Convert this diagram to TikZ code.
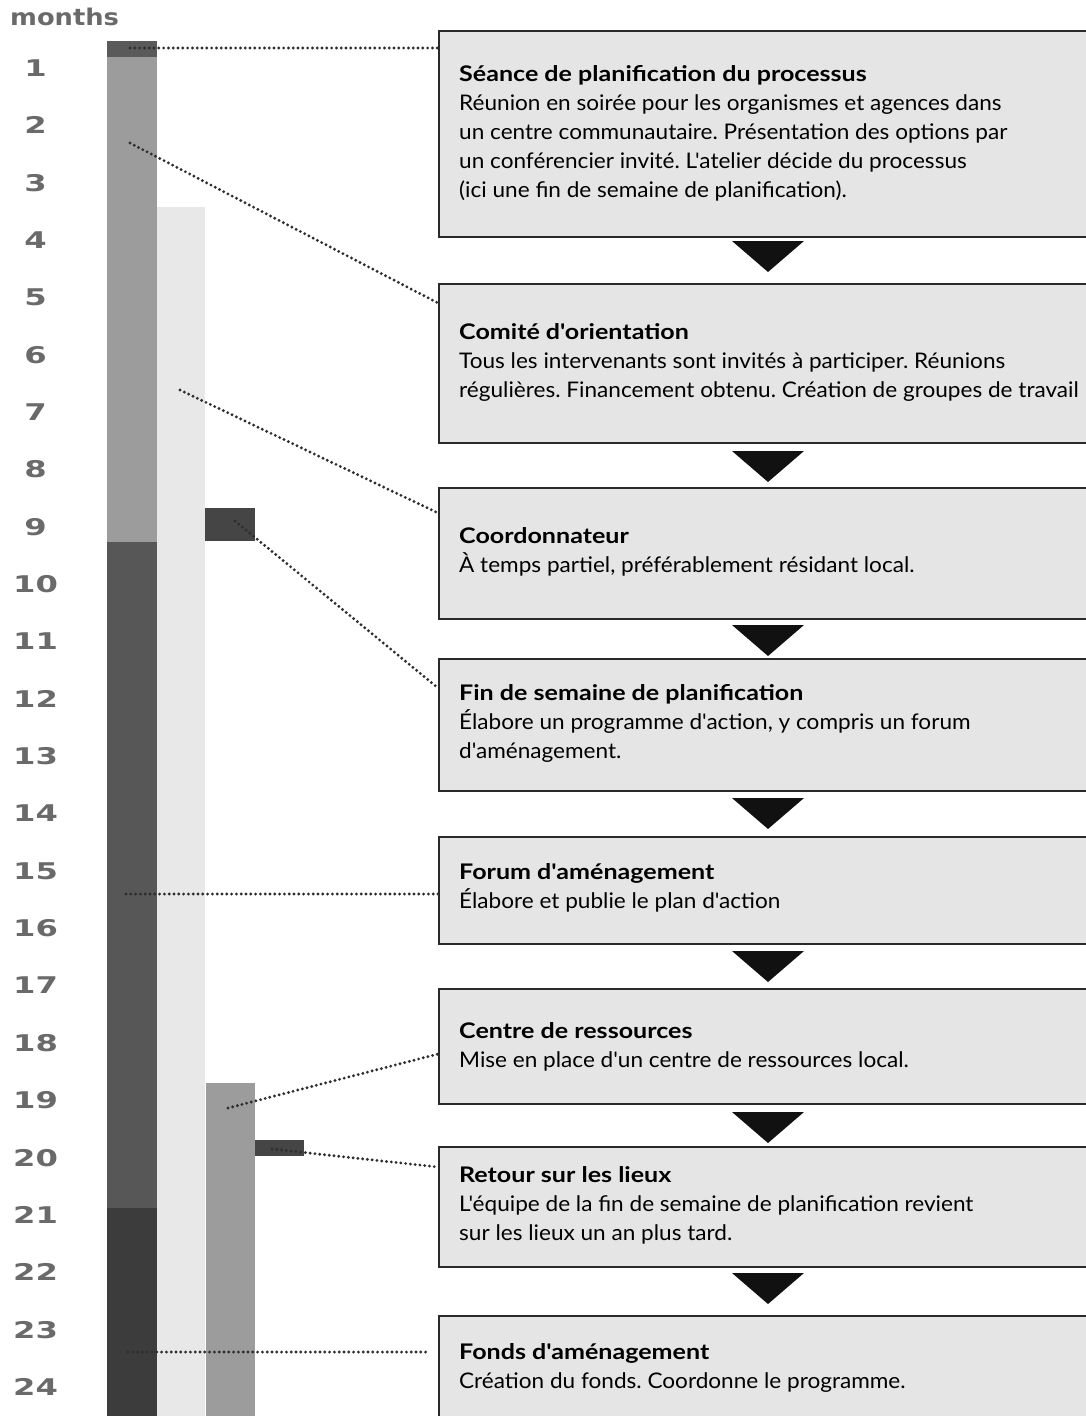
\documentclass[tikz,border=0pt]{standalone}
\usepackage{fontspec}
\usepackage{graphicx}
\setmainfont{Lato}[Ligatures=TeXOff, FakeStretch=1.05]
\newfontfamily\numfont{DejaVu Sans}
\usetikzlibrary{calc}
\frenchspacing
\definecolor{numgray}{HTML}{6A6A6A}
\definecolor{bartop}{HTML}{5A5A5A}
\definecolor{barmid}{HTML}{9C9C9C}
\definecolor{bardark}{HTML}{575757}
\definecolor{bardarkest}{HTML}{3C3C3C}
\definecolor{barlight}{HTML}{E8E8E8}
\definecolor{barsmall}{HTML}{454545}
\definecolor{boxfill}{HTML}{E5E5E5}
\definecolor{boxline}{HTML}{2A2A2A}
\definecolor{dotcol}{HTML}{2E2E2E}
\definecolor{tricol}{HTML}{111111}
\newcommand{\ttl}[1]{\rule{0pt}{20pt}\scalebox{1.11}[1]{\textbf{#1}}}
\tikzset{
  box/.style={draw=boxline, line width=1.6pt, fill=boxfill, anchor=north west,
    minimum width=680pt, inner sep=0pt},
  txt/.style={anchor=north west, inner sep=0pt, align=left,
    font=\fontsize{21.5}{29}\selectfont},
  mnum/.style={inner sep=0pt, text=numgray, font=\numfont\bfseries\fontsize{23}{23}\selectfont},
  dotline/.style={draw=dotcol, line width=3.2pt, line cap=round, dash pattern=on 0pt off 4.8pt},
  tri/.style={fill=tricol},
}
\begin{document}
\begin{tikzpicture}[x=1pt,y=-1pt]
\useasboundingbox (0,0) rectangle (1086,1416);
\clip (0,0) rectangle (1086,1416);

% months axis
\node[mnum, anchor=base west] (months) at (10,25) {\scalebox{1.12}[1]{months}};
\foreach \n in {1,...,24}{
  \node[mnum] (m\n) at (35.5,{68+(\n-1)*57.35}) {\scalebox{1.4}[1]{\n}};
}

% bars
\fill[barlight] (157,207) rectangle (205,1416);
\fill[bartop] (107,41) rectangle (157,57);
\fill[barmid] (107,57) rectangle (157,542);
\fill[bardark] (107,542) rectangle (157,1208);
\fill[bardarkest] (107,1208) rectangle (157,1416);
\fill[barsmall] (205,508) rectangle (255,541);
\fill[barmid] (206,1083) rectangle (255,1416);
\fill[barsmall] (255,1140) rectangle (304,1156);

% boxes
\node[box, minimum height=206pt] (b1) at (438,30) {};
\node[box, minimum height=159pt] (b2) at (438,283) {};
\node[box, minimum height=131pt] (b3) at (438,487) {};
\node[box, minimum height=132pt] (b4) at (438,658) {};
\node[box, minimum height=107pt] (b5) at (438,836) {};
\node[box, minimum height=115pt] (b6) at (438,988) {};
\node[box, minimum height=120pt] (b7) at (438,1146) {};
\node[box, minimum height=140pt] (b8) at (438,1315) {};

% texts
\node[txt] (t1) at (459,61) {\ttl{Séance de planification du processus}\\
Réunion en soirée pour les organismes et agences dans\\
un centre communautaire. Présentation des options par\\
un conférencier invité. L'atelier décide du processus\\
(ici une fin de semaine de planification).};
\node[txt] (t2) at (459,319) {\ttl{Comité d'orientation}\\
Tous les intervenants sont invités à participer. Réunions\\
régulières. Financement obtenu. Création de groupes de travail};
\node[txt] (t3) at (459,523) {\ttl{Coordonnateur}\\
À temps partiel, préférablement résidant local.};
\node[txt] (t4) at (459,680) {\ttl{Fin de semaine de planification}\\
Élabore un programme d'action, y compris un forum\\
d'aménagement.};
\node[txt] (t5) at (459,859) {\ttl{Forum d'aménagement}\\
Élabore et publie le plan d'action};
\node[txt] (t6) at (459,1018) {\ttl{Centre de ressources}\\
Mise en place d'un centre de ressources local.};
\node[txt] (t7) at (459,1162) {\ttl{Retour sur les lieux}\\
L'équipe de la fin de semaine de planification revient\\
sur les lieux un an plus tard.};
\node[txt] (t8) at (459,1339) {\ttl{Fonds d'aménagement}\\
Création du fonds. Coordonne le programme.};

% triangles between boxes
\foreach \ty in {241,451,625,798,951,1112,1273}{
  \fill[tri] (732,\ty) -- (804,\ty) -- (768,\ty+31) -- cycle;
}

% connector end points
\coordinate (s1) at (130,48);   \coordinate (e1) at (438,48);
\coordinate (s2) at (130,143);  \coordinate (e2) at (438,303);
\coordinate (s3) at (180,390);  \coordinate (e3) at (438,513);
\coordinate (s4) at (235,521);  \coordinate (e4) at (438,688);
\coordinate (s5) at (126,894);  \coordinate (e5) at (438,894);
\coordinate (s6) at (228,1108); \coordinate (e6) at (438,1054);
\coordinate (s7) at (272,1149); \coordinate (e7) at (438,1167);
\coordinate (s8) at (128,1352); \coordinate (e8) at (428,1352);

\foreach \i in {1,...,8}{
  \draw[dotline] (s\i) -- (e\i);
}
\end{tikzpicture}
\end{document}
